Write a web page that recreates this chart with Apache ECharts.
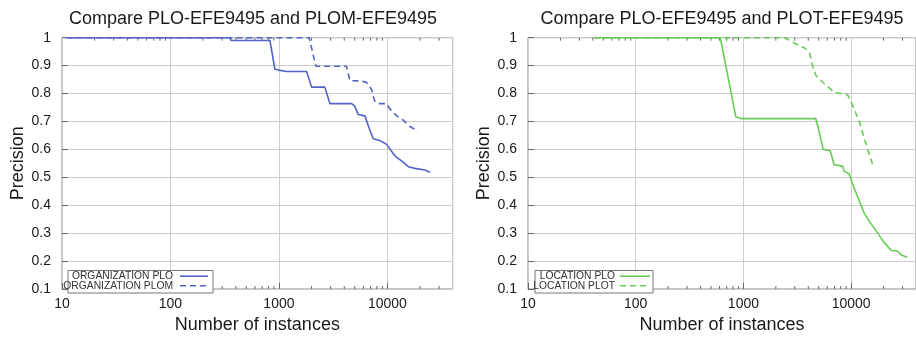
<!DOCTYPE html>
<html>
<head>
<meta charset="utf-8">
<script src="https://cdn.jsdelivr.net/npm/echarts@6/dist/echarts.min.js"></script>
<style>
html,body{margin:0;padding:0;background:#fff;}
#c{width:916px;height:339px;}
</style>
</head>
<body>
<div id="c"></div>
<script>
// ---- data ----
const titles = ['Compare PLO-EFE9495 and PLOM-EFE9495', 'Compare PLO-EFE9495 and PLOT-EFE9495'];
const legendNames = [['ORGANIZATION PLO', 'ORGANIZATION PLOM'], ['LOCATION PLO', 'LOCATION PLOT']];
const xMin = 10, xMax = 40000;
const yMin = 0.1, yMax = 1;
const minorTickValues = [20,30,40,50,60,70,80,90,200,300,400,500,600,700,800,900,2000,3000,4000,5000,6000,7000,8000,9000,20000,30000];

const orgPLO = [[11,1],[355,1],[362,0.99],[826,0.99],[918,0.887],[1000,0.884],[1178,0.879],[1800,0.879],[2000,0.823],[2650,0.823],[2950,0.764],[4680,0.764],[5000,0.755],[5380,0.725],[6200,0.72],[6790,0.676],[7400,0.638],[8500,0.632],[9840,0.618],[11700,0.577],[13500,0.559],[15600,0.538],[17900,0.532],[22200,0.526],[24700,0.518]];
const orgPLOM = [[11,1],[1900,1],[2190,0.898],[4200,0.898],[4510,0.846],[5780,0.845],[6420,0.84],[7140,0.815],[7600,0.775],[8220,0.764],[9830,0.764],[10500,0.746],[12200,0.72],[14000,0.705],[16100,0.682],[19200,0.665]];
const locPLO = [[42,1],[610,1],[849,0.717],[964,0.71],[4700,0.71],[5000,0.67],[5500,0.6],[6400,0.595],[6950,0.545],[8350,0.54],[8600,0.522],[9620,0.512],[10300,0.477],[11500,0.43],[13200,0.372],[14700,0.343],[15300,0.337],[17500,0.302],[20200,0.267],[23600,0.238],[26800,0.236],[29200,0.222],[33200,0.214]];
const locPLOT = [[41,1],[2420,1],[2990,0.98],[3700,0.963],[4120,0.945],[4420,0.893],[4740,0.863],[5660,0.834],[7000,0.805],[9290,0.795],[10300,0.758],[11900,0.70],[13200,0.641],[15800,0.547]];

const seriesData = [[orgPLO, orgPLOM], [locPLO, locPLOT]];
const colors = ['#5363c9', '#66cc55'];

// ---- layout ----
const FONT = 'Liberation Sans, Arial, Helvetica, sans-serif';
const gridDefs = [
  {left: 62, top: 37.7, width: 390.7, height: 256.5},
  {left: 528, top: 37.7, width: 390.6, height: 256.5}
];
const titleCenters = [253, 722];
const legendDefs = [
  {x: 68, w: 145, textRight: 173, lineX1: 180, lineX2: 208},
  {x: 535, w: 118, textRight: 615, lineX1: 620, lineX2: 650}
];

const grid = gridDefs.map(g => Object.assign({show: true, borderColor: '#888', borderWidth: 1, backgroundColor: 'transparent'}, g));

const xAxis = [];
const yAxis = [];
const series = [];
const title = [];
const graphic = [];

gridDefs.forEach((g, i) => {
  title.push({
    text: titles[i], left: titleCenters[i], top: 10, textAlign: 'center', padding: 0,
    textStyle: {fontFamily: FONT, fontSize: 18, fontWeight: 'normal', color: '#1a1a1a'}
  });
  xAxis.push({
    type: 'log', logBase: 10, gridIndex: i, min: xMin, max: xMax, position: 'bottom',
    axisLine: {show: false},
    axisTick: {show: true, inside: true, length: 6, lineStyle: {color: '#666'}},
    axisLabel: {show: true, fontFamily: FONT, fontSize: 14, color: '#1a1a1a', margin: 8,
      showMaxLabel: false, formatter: v => String(Math.round(v))},
    splitLine: {show: true, lineStyle: {color: '#cccccc', width: 1}},
    name: 'Number of instances', nameLocation: 'middle', nameGap: 27,
    nameTextStyle: {fontFamily: FONT, fontSize: 18, color: '#1a1a1a'}
  });
  yAxis.push({
    type: 'value', gridIndex: i, min: yMin, max: yMax, interval: 0.1,
    axisLine: {show: false},
    axisTick: {show: true, inside: true, length: 6, lineStyle: {color: '#666'}},
    axisLabel: {fontFamily: FONT, fontSize: 14, color: '#1a1a1a', margin: 11,
      formatter: v => String(Math.round(v * 10) / 10)},
    splitLine: {show: true, lineStyle: {color: '#cccccc', width: 1}},
    name: 'Precision', nameLocation: 'middle', nameGap: 35, nameRotate: 90,
    nameTextStyle: {fontFamily: FONT, fontSize: 18, color: '#1a1a1a'}
  });
  // minor log ticks on bottom and top edges, placed through the axis scale
  series.push({
    type: 'custom', xAxisIndex: i, yAxisIndex: i, silent: true, clip: false, z: 2,
    data: minorTickValues.map(v => [v]),
    renderItem: (params, api) => {
      const b = api.coord([api.value(0), yMin]);
      const t = api.coord([api.value(0), yMax]);
      const st = {stroke: '#666', lineWidth: 1};
      return {type: 'group', children: [
        {type: 'line', shape: {x1: b[0], y1: b[1], x2: b[0], y2: b[1] - 3}, style: st},
        {type: 'line', shape: {x1: t[0], y1: t[1], x2: t[0], y2: t[1] + 3}, style: st}
      ]};
    }
  });
  seriesData[i].forEach((d, k) => {
    series.push({
      type: 'line', name: legendNames[i][k], xAxisIndex: i, yAxisIndex: i,
      data: d, showSymbol: false, symbol: 'none', smooth: false, animation: false,
      lineStyle: {color: colors[i], width: 1.6, type: k === 0 ? 'solid' : [6, 4]},
      itemStyle: {color: colors[i]}, z: 3
    });
  });
  // legend box (drawn as graphic)
  const L = legendDefs[i];
  const rowY = [276.2, 285.8];
  graphic.push({type: 'rect', shape: {x: L.x, y: 270.5, width: L.w, height: 22.5},
    style: {fill: '#fff', stroke: '#777', lineWidth: 1}, z: 10});
  legendNames[i].forEach((n, k) => {
    graphic.push({type: 'text', x: L.textRight, y: rowY[k], z: 11,
      style: {text: n, fontFamily: FONT, fontSize: 10.3, fill: '#333', align: 'right', verticalAlign: 'middle'}});
    graphic.push({type: 'line', z: 11,
      shape: {x1: L.lineX1, y1: rowY[k], x2: L.lineX2, y2: rowY[k]},
      style: {stroke: colors[i], lineWidth: 1.6, lineDash: k === 0 ? null : [6, 4]}});
  });
});

const chart = echarts.init(document.getElementById('c'), null, {renderer: 'canvas'});
chart.setOption({
  animation: false,
  backgroundColor: '#fff',
  title, grid, xAxis, yAxis, series, graphic
});
</script>
</body>
</html>
